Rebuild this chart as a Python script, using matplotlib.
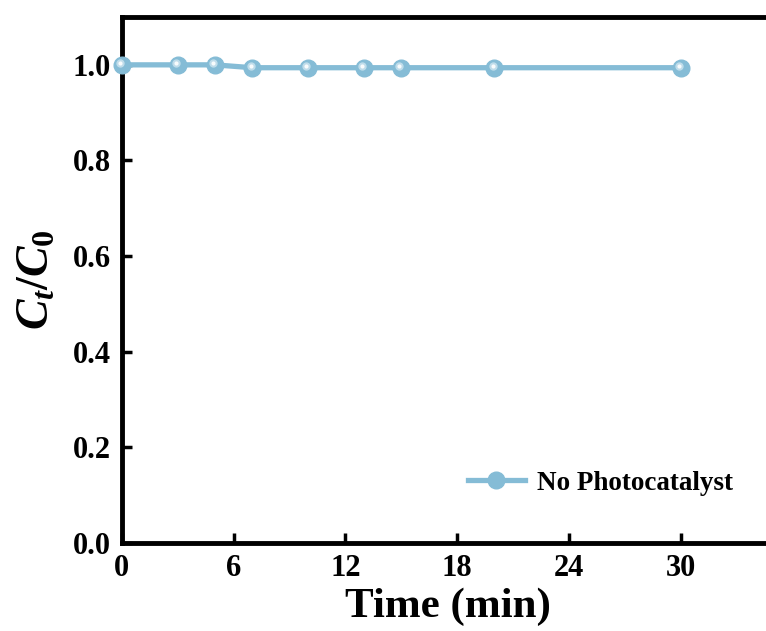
import matplotlib
matplotlib.use("Agg")
import matplotlib.pyplot as plt
import matplotlib.transforms as mtransforms
from matplotlib.lines import Line2D

# data
time_min = [0, 3, 5, 7, 10, 13, 15, 20, 30]
ratio = [1.0, 1.0, 1.0, 0.994, 0.994, 0.994, 0.994, 0.994, 0.994]
x_ticks = [0, 6, 12, 18, 24, 30]
y_ticks = [0.0, 0.2, 0.4, 0.6, 0.8, 1.0]

plt.rcParams['font.family'] = 'Liberation Serif'
plt.rcParams['font.weight'] = 'bold'
plt.rcParams['mathtext.fontset'] = 'custom'
plt.rcParams['mathtext.rm'] = 'Liberation Serif:bold'
plt.rcParams['mathtext.it'] = 'Liberation Serif:italic:bold'
plt.rcParams['mathtext.bf'] = 'Liberation Serif:bold'

col = '#85BCD6'
hl = '#E6F3F9'

fig = plt.figure(figsize=(7.66, 6.31), dpi=100)
ax = fig.add_axes([0.159, 0.1395, 0.851, 0.8335])

ax.plot(time_min, ratio, color=col, lw=3.8, marker='o', ms=12,
        mfc=col, mec=col, zorder=3, clip_on=False)
# small highlight on each marker
shift = mtransforms.offset_copy(ax.transData, fig=fig, x=-1.2, y=1.2, units='points')
ax.plot(time_min, ratio, ls='none', marker='o', ms=6, mfc=hl, mec='none',
        alpha=0.6, transform=shift, zorder=4, clip_on=False)
ax.plot(time_min, ratio, ls='none', marker='o', ms=3, mfc='white', mec='none',
        alpha=0.9, transform=shift, zorder=5, clip_on=False)

ax.set_xlim(0, 35)
ax.set_ylim(0, 1.1)
ax.set_xticks(x_ticks)
ax.set_yticks(y_ticks)
ax.set_yticklabels([f'{v:.1f}' for v in y_ticks])

for s in ax.spines.values():
    s.set_linewidth(3.5)
ax.tick_params(direction='in', length=7, width=2.5, labelsize=22, pad=8)

ax.set_xlabel('Time (min)', fontsize=31, fontweight='bold', labelpad=3)
ax.set_ylabel(r'$C_t/C_0$', fontsize=33, labelpad=10)

handle = Line2D([], [], color=col, lw=3.8, marker='o', ms=12, mfc=col, mec=col)
leg = ax.legend([handle], ['No Photocatalyst'], loc='center left',
                bbox_to_anchor=(0.531, 0.114), frameon=False, fontsize=19.5,
                handlelength=2.1, handletextpad=0.45, borderpad=0, borderaxespad=0)

fig.savefig('out.png', dpi=100)
